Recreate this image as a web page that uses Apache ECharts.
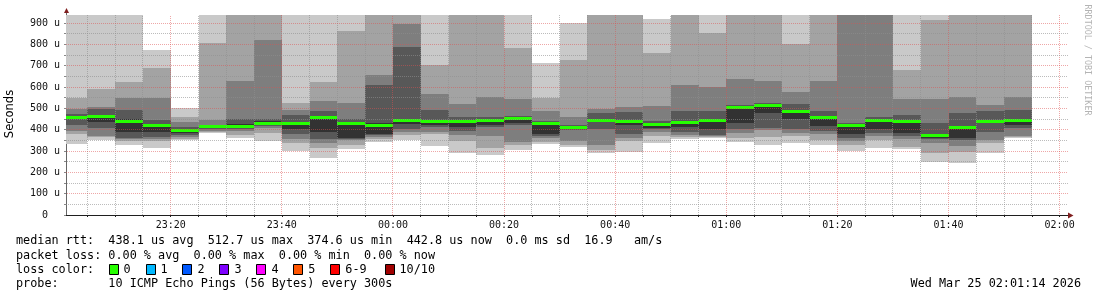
<!DOCTYPE html>
<html><head><meta charset="utf-8">
<script src="https://cdn.jsdelivr.net/npm/echarts@6/dist/echarts.min.js"></script>
<style>html,body{margin:0;padding:0;background:#fff}#c{width:1097px;height:297px}</style>
</head><body><div id="c"></div>
<script>
// ---- data (minutes after 23:00; values in microseconds) ----
const binStart = [0,5,10,15,20,25,30,35,40,45,50,55,60,65,70,75,80,85,90,95,100,105,110,115,120,125,130,135,140,145,150,155,160,165,170];
const binMinutes = 5;
// sorted ping rtts per 5-minute bin (ping1 = fastest ... ping10 = slowest); values above the top are clipped
const ping1  = [334,352,330,316,350,384,362,347,302,269,308,344,352,323,289,281,305,331,317,292,297,336,355,359,344,328,339,328,302,316,308,250,245,292,359];
const ping2  = [380,364,348,348,358,389,375,386,336,312,328,355,375,380,347,316,328,344,328,305,348,370,364,367,359,367,370,352,328,352,317,289,297,336,366];
const ping3  = [395,370,355,358,364,394,392,406,355,336,352,367,387,391,375,370,344,359,347,328,359,391,375,372,383,399,386,380,347,370,355,336,323,352,370];
const ping4  = [422,408,362,367,375,403,403,417,380,355,357,373,403,414,395,414,422,370,398,402,380,402,391,376,403,406,402,395,359,386,370,355,352,391,406];
const ping5  = [448,434,389,391,384,408,409,422,402,391,360,380,425,422,411,420,433,380,403,436,422,409,414,402,433,480,448,417,380,402,383,360,363,430,422];
const ping6  = [461,467,448,422,401,417,425,441,438,461,438,430,445,442,441,450,458,436,419,450,441,428,441,448,508,516,487,461,425,448,441,378,414,442,445];
const ping7  = [473,497,492,445,414,422,450,450,469,489,450,609,789,492,458,461,464,441,422,477,484,441,489,487,516,523,520,487,433,458,469,430,480,487,492];
const ping8  = [497,506,548,550,434,445,630,820,492,536,527,656,895,567,520,555,544,489,458,497,508,511,609,598,637,628,578,626,1000,1000,543,544,551,516,551];
const ping9  = [550,591,623,689,459,808,1000,1000,527,625,862,980,1000,703,1000,1000,784,550,727,1000,1000,761,1000,855,1000,1000,800,1000,1100,1100,680,914,1000,1000,1000];
const ping10 = [1100,1100,1100,773,502,1100,1150,1200,1100,1100,1100,1100,1150,1150,1150,1150,1150,711,898,1150,1150,919,1150,1100,1150,1150,1100,1150,1200,1200,1150,1100,1150,1150,1150];
const median = [455,464,440,419,396,413,417,431,430,455,430,420,441,436,436,444,453,430,411,444,436,423,434,441,503,511,483,456,418,444,436,373,408,439,442];

const xTickValues = [20,40,60,80,100,120,140,160,180];
const xTickLabels = ['23:20','23:40','00:00','00:20','00:40','01:00','01:20','01:40','02:00'];
const yTickValues = [0,100,200,300,400,500,600,700,800,900];
const yTickLabels = ['0  ','100 u','200 u','300 u','400 u','500 u','600 u','700 u','800 u','900 u'];

const statLines = [
  'median rtt:  438.1 us avg  512.7 us max  374.6 us min  442.8 us now  0.0 ms sd  16.9   am/s',
  'packet loss: 0.00 % avg  0.00 % max  0.00 % min  0.00 % now',
  'loss color:',
  'probe:       10 ICMP Echo Pings (56 Bytes) every 300s'
];
const lossLabels = ['0','1','2','3','4','5','6-9','10/10'];
const lossColors = ['#26ff00','#00b8ff','#0059ff','#7e00ff','#ff00ff','#ff5500','#ff0000','#a00000'];
const smokeColors = ['#c9c9c9','#a3a3a3','#7e7e7e','#585858','#323232'];
const stampText = 'Wed Mar 25 02:01:14 2026';
const creditText = 'RRDTOOL / TOBI OETIKER';

// ---- layout ----
const xMin = 1.15, xMax = 181.15, yMin = 0, yMax = 937.5;
const G = {left: 66, right: 31, top: 15, bottom: 82};
const W = 1097, H = 297;
const mono = 'DejaVu Sans Mono';
const charW = 7.12;
const arrowColor = '#801f1f';

// dotted grid patterns (2x2 checker -> one pixel on, one pixel off along any row/column)
function dotPattern(color) {
  const c = document.createElement('canvas');
  c.width = 2; c.height = 2;
  const g = c.getContext('2d');
  g.fillStyle = color;
  g.fillRect(0, 0, 1, 1);
  g.fillRect(1, 1, 1, 1);
  return {image: c, repeat: 'repeat'};
}
const minorFill = dotPattern('rgba(143,143,143,0.6)');
const majorFill = dotPattern('rgba(222,79,79,0.5)');

const pings = [ping1,ping2,ping3,ping4,ping5,ping6,ping7,ping8,ping9,ping10];
const smokeData = binStart.map((t, i) => [t].concat(pings.map(p => p[i])).concat([median[i]]));

function renderSmoke(params, api) {
  const t = api.value(0);
  const X0 = Math.round(api.coord([Math.max(t, xMin), 0])[0]);
  const X1 = Math.round(api.coord([Math.min(t + binMinutes, xMax), 0])[0]);
  const children = [];
  for (let b = 0; b < 5; b++) {
    const lo = Math.min(api.value(1 + b), yMax);
    const hi = Math.min(api.value(10 - b), yMax);
    const yLo = Math.round(api.coord([t, lo])[1]);
    const yHi = Math.round(api.coord([t, hi])[1]);
    if (yLo - yHi <= 0) continue;
    children.push({type: 'rect', shape: {x: X0, y: yHi, width: X1 - X0, height: yLo - yHi},
      style: {fill: smokeColors[b]}});
  }
  const ym = api.coord([t, api.value(11)])[1];
  children.push({type: 'rect', shape: {x: X0, y: Math.round(ym - 1.5), width: X1 - X0, height: 3},
    style: {fill: lossColors[0]}});
  return {type: 'group', children};
}

// grid lines: [orientation (0 = vertical at time, 1 = horizontal at value), position, isMajor]
const gridData = [];
const minorTimes = [];
for (let m = 5; m <= 180; m += 5) { minorTimes.push(m); gridData.push([0, m, m % 20 === 0 ? 1 : 0]); }
const minorVals = [];
for (let v = 50; v <= 900; v += 50) { minorVals.push(v); gridData.push([1, v, v % 100 === 0 ? 1 : 0]); }

function renderGrid(params, api) {
  const cs = params.coordSys;
  const vertical = api.value(0) === 0;
  const pos = api.value(1);
  const fill = api.value(2) === 1 ? majorFill : minorFill;
  if (vertical) {
    const x = Math.floor(api.coord([pos, 0])[0]);
    return {type: 'rect', shape: {x: x, y: cs.y, width: 1, height: cs.height}, style: {fill}};
  }
  const y = Math.floor(api.coord([xMin, pos])[1]);
  return {type: 'rect', shape: {x: cs.x, y: y, width: cs.width + 2, height: 1}, style: {fill}};
}

// graphic: legend texts, boxes, arrows, titles
const graphics = [];
const lineY = [241, 255.5, 269.5, 283.5];
statLines.forEach((s, i) => {
  graphics.push({type: 'text', x: 16, y: lineY[i], silent: true,
    style: {text: s, x: 0, y: 0, fill: '#000', font: '11.8px ' + mono, align: 'left', verticalAlign: 'middle', textAlign: 'left', textVerticalAlign: 'middle'}});
});
let lx = 16 + 13 * charW;
lossLabels.forEach((lab, i) => {
  graphics.push({type: 'rect', silent: true, shape: {x: Math.round(lx) + 0.5, y: 264.5, width: 9, height: 10},
    style: {fill: lossColors[i], stroke: '#000', lineWidth: 1}});
  graphics.push({type: 'text', silent: true, x: lx + 15, y: lineY[2],
    style: {text: lab, x: 0, y: 0, fill: '#000', font: '11.8px ' + mono, align: 'left', verticalAlign: 'middle', textAlign: 'left', textVerticalAlign: 'middle'}});
  lx += 15.6 + (lab.length + 2) * charW + (lab.length > 1 ? 3 : 0);
});
graphics.push({type: 'text', silent: true, x: 1081, y: lineY[3],
  style: {text: stampText, x: 0, y: 0, fill: '#000', font: '11.8px ' + mono, align: 'right', verticalAlign: 'middle', textAlign: 'right', textVerticalAlign: 'middle'}});
graphics.push({type: 'text', silent: true, x: 1087, y: 60, rotation: -Math.PI / 2,
  style: {text: creditText, x: 0, y: 0, fill: '#b4b4b4', font: '8.4px ' + mono, align: 'center', verticalAlign: 'middle', textAlign: 'center', textVerticalAlign: 'middle'}});
graphics.push({type: 'text', silent: true, x: 10.5, y: 114, rotation: Math.PI / 2,
  style: {text: 'Seconds', x: 0, y: 0, fill: '#000', font: '11.5px DejaVu Sans', align: 'center', verticalAlign: 'middle', textAlign: 'center', textVerticalAlign: 'middle'}});
// axis extensions and arrow heads
const plotRight = W - G.right, plotBottom = H - G.bottom;
graphics.push({type: 'line', silent: true, shape: {x1: plotRight, y1: plotBottom + 0.5, x2: plotRight + 3, y2: plotBottom + 0.5}, style: {stroke: '#1f1f1f', lineWidth: 1}});
graphics.push({type: 'polygon', silent: true, shape: {points: [[plotRight + 2, plotBottom - 2.5], [plotRight + 7.5, plotBottom + 0.5], [plotRight + 2, plotBottom + 3.5]]}, style: {fill: arrowColor}});
graphics.push({type: 'line', silent: true, shape: {x1: G.left + 0.5, y1: G.top, x2: G.left + 0.5, y2: G.top - 3}, style: {stroke: '#666', lineWidth: 1}});
graphics.push({type: 'polygon', silent: true, shape: {points: [[G.left - 2, G.top - 2], [G.left + 0.5, G.top - 7], [G.left + 3, G.top - 2]]}, style: {fill: arrowColor}});

const option = {
  backgroundColor: '#ffffff',
  animation: false,
  grid: {left: G.left, right: G.right, top: G.top, bottom: G.bottom, containLabel: false, outerBoundsMode: 'none'},
  xAxis: {
    type: 'value', min: xMin, max: xMax,
    axisLine: {show: true, onZero: false, lineStyle: {color: '#1f1f1f', width: 1}},
    axisTick: {show: true, customValues: minorTimes, length: 2, lineStyle: {color: '#1f1f1f'}},
    axisLabel: {customValues: xTickValues, margin: 5,
      formatter: v => { const k = xTickValues.indexOf(Math.round(v)); return k >= 0 ? xTickLabels[k] : ''; },
      fontFamily: mono, fontSize: 10, color: '#111'},
    splitLine: {show: false}, minorTick: {show: false}
  },
  yAxis: {
    type: 'value', min: yMin, max: yMax,
    axisLine: {show: true, onZero: false, lineStyle: {color: '#666', width: 1}},
    axisTick: {show: true, customValues: [0].concat(minorVals), length: 2, lineStyle: {color: '#888'}},
    axisLabel: {customValues: yTickValues, margin: 6,
      formatter: v => { const k = yTickValues.indexOf(Math.round(v)); return k >= 0 ? yTickLabels[k] : ''; },
      fontFamily: mono, fontSize: 10, color: '#111'},
    splitLine: {show: false}
  },
  series: [
    {type: 'custom', name: 'smoke', silent: true, z: 2, renderItem: renderSmoke,
     encode: {x: 0, y: 11}, data: smokeData},
    {type: 'custom', name: 'grid', silent: true, z: 5, renderItem: renderGrid,
     encode: {x: -1, y: -1}, data: gridData}
  ],
  graphic: graphics
};
const chart = echarts.init(document.getElementById('c'), null, {renderer: 'canvas', width: W, height: H});
chart.setOption(option);
</script>
</body></html>
